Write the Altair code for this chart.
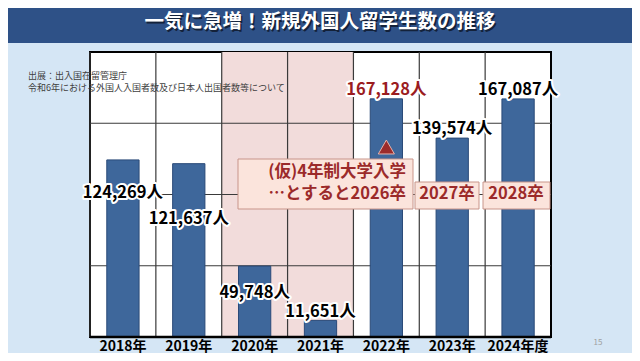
import altair as alt
import pandas as pd

# ---- data ----
years = ["2018年", "2019年", "2020年", "2021年", "2022年", "2023年", "2024年度"]
students = [124269, 121637, 49748, 11651, 167128, 139574, 167087]
shaded_years = ["2020年", "2021年"]
highlight_year = "2022年"
grid_values = [50000, 100000, 150000]
y_max = 200000
# label vertical offsets (px) relative to bar top
label_dy = [33, 55, 27, -8, -9, -9, -9]

title_text = "一気に急増！新規外国人留学生数の推移"
source_lines = ["出展：出入国在留管理庁", "令和6年における外国人入国者数及び日本人出国者数等について"]
note_line1 = "(仮)4年制大学入学"
note_line2 = "…とすると2026卒"
note_2027 = "2027卒"
note_2028 = "2028卒"
page_no = "15"

JP = "Noto Sans CJK JP"
W, H = 461, 285

df = pd.DataFrame({"year": years, "students": students})
df["label"] = [f"{v:,}人" for v in students]
one = pd.DataFrame({"k": [0]})

xs = alt.Scale(domain=years, paddingInner=0, paddingOuter=0)
ys = alt.Scale(domain=[0, y_max], nice=False, zero=True)
x_axis = alt.Axis(title=None, ticks=False, domain=False, labelAngle=0, labelFont=JP,
                  labelFontSize=14, labelFontWeight="bold", labelColor="black",
                  labelPadding=2, labelBaseline="top", grid=False)
X = alt.X("year:N", scale=xs, axis=x_axis)
Y = alt.Y("students:Q", scale=ys, axis=None)

shade = alt.Chart(df).transform_filter(
    alt.FieldOneOfPredicate(field="year", oneOf=shaded_years)
).mark_rect(color="#f2dcdb").encode(
    x=X, y=alt.Y(datum=y_max, scale=ys, axis=None), y2=alt.Y2(datum=0)
)

vgrid = alt.Chart(df).mark_rule(color="#3a3a3a", strokeWidth=1.2).encode(
    x=alt.X("year:N", scale=xs, axis=x_axis, bandPosition=0),
    y=alt.Y(datum=0, scale=ys, axis=None), y2=alt.Y2(datum=y_max)
)

hgrid = alt.Chart(pd.DataFrame({"v": grid_values})).mark_rule(
    color="#3a3a3a", strokeWidth=1.2
).encode(y=alt.Y("v:Q", scale=ys, axis=None))

bars = alt.Chart(df).mark_bar(
    width=alt.RelativeBandSize(0.49), color="#3e679b", stroke="#2a4a78", strokeWidth=1
).encode(x=X, y=Y)

baseline = alt.Chart(pd.DataFrame({"v": [0]})).mark_rule(
    color="black", strokeWidth=2.5
).encode(y=alt.Y("v:Q", scale=ys, axis=None))

triangle = alt.Chart(pd.DataFrame({"year": [highlight_year]})).mark_point(
    shape="triangle-up", filled=True, size=260, fill="#9b2b2b",
    stroke="#e6b4ac", strokeWidth=1, opacity=1
).encode(x=X, y=alt.value(95))

label_layers = []
for yr, dy in zip(years, label_dy):
    base = alt.Chart(df).transform_filter(alt.datum.year == yr)
    outline = base.mark_text(
        dy=dy, font=JP, fontSize=16.5, fontWeight="bold", fill="white",
        stroke="white", strokeWidth=4, strokeJoin="round", baseline="middle"
    ).encode(x=X, y=Y, text="label:N")
    fill = base.mark_text(
        dy=dy, font=JP, fontSize=16.5, fontWeight="bold", baseline="middle"
    ).encode(
        x=X, y=Y, text="label:N",
        color=alt.condition(alt.datum.year == highlight_year,
                            alt.value("#9b1c1f"), alt.value("black"))
    )
    label_layers += [outline, fill]

box_style = dict(fill="#fbe4dc", stroke="#c8958a", strokeWidth=1)
box_big = alt.Chart(one).mark_rect(**box_style).encode(
    x=alt.value(148), x2=alt.value(323), y=alt.value(107), y2=alt.value(157))
box_27 = alt.Chart(one).mark_rect(**box_style).encode(
    x=alt.value(325), x2=alt.value(389), y=alt.value(130), y2=alt.value(157))
box_28 = alt.Chart(one).mark_rect(**box_style).encode(
    x=alt.value(393), x2=alt.value(460), y=alt.value(130), y2=alt.value(157))

note_style = dict(font=JP, fontSize=16.5, fontWeight="bold", color="#9b2a2a", baseline="middle")
t1 = alt.Chart(one).mark_text(text=note_line1, align="right", **note_style).encode(
    x=alt.value(316), y=alt.value(120))
t2 = alt.Chart(one).mark_text(text=note_line2, align="right", **note_style).encode(
    x=alt.value(316), y=alt.value(142))
t3 = alt.Chart(one).mark_text(text=note_2027, align="center", **note_style).encode(
    x=alt.value(357), y=alt.value(142))
t4 = alt.Chart(one).mark_text(text=note_2028, align="center", **note_style).encode(
    x=alt.value(426), y=alt.value(142))

title_bar = alt.Chart(one).mark_rect(color="#2e5187").encode(
    x=alt.value(-90), x2=alt.value(560), y=alt.value(-60), y2=alt.value(-9))
title_shadow = alt.Chart(one).mark_text(
    text=title_text, font=JP, fontSize=19.5, fontWeight="bold", color="#14223a",
    align="center", baseline="middle").encode(x=alt.value(231.5), y=alt.value(-28.5))
title = alt.Chart(one).mark_text(
    text=title_text, font=JP, fontSize=19.5, fontWeight="bold", color="white",
    align="center", baseline="middle").encode(x=alt.value(230), y=alt.value(-30))

src1 = alt.Chart(one).mark_text(
    text=source_lines[0], font=JP, fontSize=9, color="#404040", align="left",
    baseline="middle").encode(x=alt.value(-62), y=alt.value(24))
src2 = alt.Chart(one).mark_text(
    text=source_lines[1], font=JP, fontSize=9, color="#404040", align="left",
    baseline="middle").encode(x=alt.value(-62), y=alt.value(36))
pg = alt.Chart(one).mark_text(
    text=page_no, font=JP, fontSize=8, color="#a0a0a0", align="center",
    baseline="middle").encode(x=alt.value(508), y=alt.value(291))

chart = alt.layer(
    shade, vgrid, hgrid, bars, baseline, triangle,
    box_big, box_27, box_28, t1, t2, t3, t4,
    *label_layers,
    title_bar, title_shadow, title, src1, src2, pg
).properties(
    width=W, height=H,
    autosize=alt.AutoSizeParams(type="none"),
    padding={"left": 82, "top": 44, "right": 81, "bottom": 16},
    background="#d5e6f5",
).configure_view(stroke="black", strokeWidth=2, fill="white")

chart.save("out.html", embed_options={"renderer": "svg", "actions": False})
